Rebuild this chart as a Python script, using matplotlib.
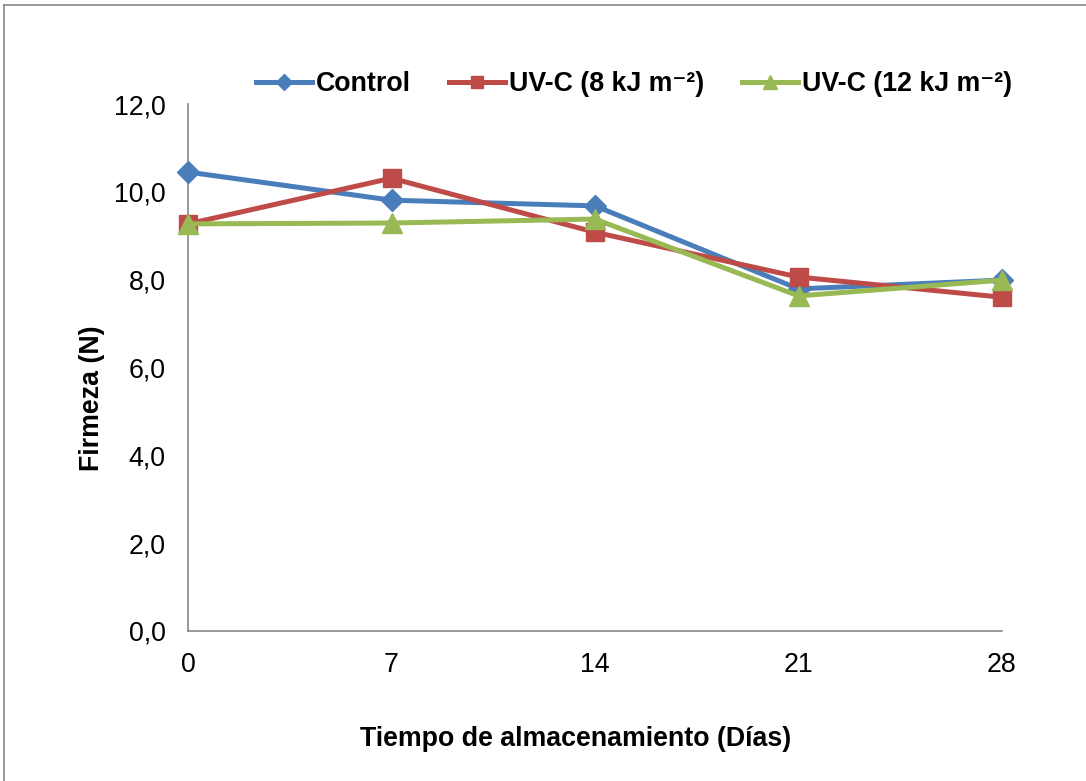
import matplotlib
matplotlib.use("Agg")
import matplotlib.pyplot as plt
from matplotlib.lines import Line2D
from matplotlib.ticker import FuncFormatter

plt.rcParams['font.family'] = ['Liberation Sans', 'DejaVu Sans']

# datos
dias = [0, 7, 14, 21, 28]
control = [10.45, 9.81, 9.68, 7.79, 7.99]
uvc_8 = [9.27, 10.31, 9.08, 8.06, 7.60]
uvc_12 = [9.27, 9.29, 9.38, 7.63, 7.99]
series_labels = ['Control', 'UV-C (8 kJ m⁻²)', 'UV-C (12 kJ m⁻²)']
y_ticks = [0, 2, 4, 6, 8, 10, 12]

W, H = 1086, 781
FS = 19.3
fig = plt.figure(figsize=(W / 100, H / 100), dpi=100)
ax = fig.add_axes([188 / W, 1 - 631 / H, (1002 - 188) / W, (631 - 104) / H])

ax.plot(dias, control, color='#4A7EBB', lw=3.6, marker='D', ms=11, label=series_labels[0], clip_on=False)
ax.plot(dias, uvc_8, color='#BE4B48', lw=3.6, marker='s', ms=12.5, label=series_labels[1], clip_on=False)
ax.plot(dias, uvc_12, color='#98B954', lw=3.6, marker='^', ms=14, label=series_labels[2], clip_on=False)

ax.set_xlim(0, 28)
ax.set_ylim(0, 12)
ax.set_xticks(dias)
ax.set_yticks(y_ticks)
ax.yaxis.set_major_formatter(FuncFormatter(lambda v, p: f"{v:.1f}".replace('.', ',')))
ax.tick_params(axis='both', length=0, labelsize=FS)
ax.tick_params(axis='y', pad=16)
ax.tick_params(axis='x', pad=15)
for side in ['top', 'right']:
    ax.spines[side].set_visible(False)
for side in ['left', 'bottom']:
    ax.spines[side].set_color('#868686')
    ax.spines[side].set_linewidth(1.2)
    ax.spines[side].set_zorder(1)

fig.text(92 / W, 1 - 398 / H, 'Firmeza (N)', rotation=90, ha='center', va='center',
         fontsize=FS, fontweight='bold')
fig.text(576 / W, 1 - 739 / H, 'Tiempo de almacenamiento (Días)', ha='center', va='center',
         fontsize=FS, fontweight='bold')

leg = ax.legend(loc='center left', bbox_to_anchor=(256 / W, 1 - 84 / H), bbox_transform=fig.transFigure,
                ncol=3, frameon=False, handlelength=2.1, handletextpad=0.15, columnspacing=1.4,
                markerscale=0.7, borderpad=0, borderaxespad=0, prop={'size': FS, 'weight': 'bold'})

# marco exterior
fig.add_artist(Line2D([4 / W, 1.0], [1 - 5 / H, 1 - 5 / H], transform=fig.transFigure, color='#868686', lw=1.2))
fig.add_artist(Line2D([4 / W, 4 / W], [0.0, 1 - 5 / H], transform=fig.transFigure, color='#868686', lw=1.2))

fig.savefig('out.png', dpi=100)
